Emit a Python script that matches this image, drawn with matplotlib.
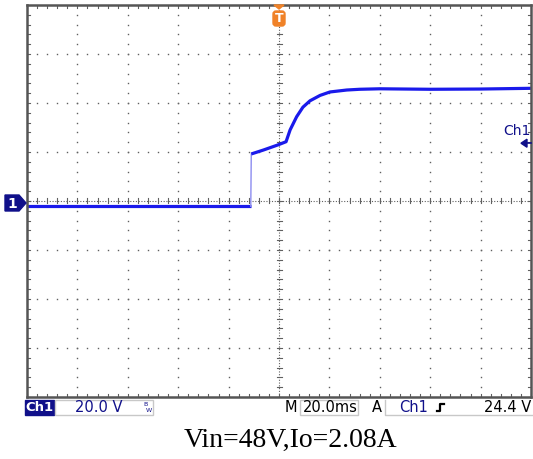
import matplotlib
matplotlib.use("Agg")
import matplotlib.pyplot as plt
from matplotlib.patches import Rectangle, Polygon, FancyBboxPatch
import numpy as np

# ---- data (time in ms relative to trigger, voltage in V) ----
t_pre = [-100, -60, -30, -11.2]
v_pre = [-2.2, -2.2, -2.2, -2.2]
t_step = [-11.2, -11.0]
v_step = [-2.2, 19.2]
t_post = [-11.0, -6.2, -0.4, 2.8, 4.4, 7.0, 9.5, 12.3, 16.3, 20.2, 26.9, 32, 40, 60, 80, 100]
v_post = [19.2, 20.8, 22.9, 24.2, 29.0, 34.4, 38.3, 40.9, 43.1, 44.5, 45.3, 45.6, 45.8, 45.6, 45.7, 46.0]

volts_per_div = 20.0
ms_per_div = 20.0
trigger_level = 24.4
caption = "Vin=48V,Io=2.08A"

W, H = 533, 459
fig = plt.figure(figsize=(W / 100, H / 100), dpi=100)
fig.patch.set_facecolor("white")

L, R, T, B = 27, 531, 5, 397
ax = fig.add_axes([L / W, 1 - B / H, (R - L) / W, (B - T) / H])
ax.set_xlim(-5 * ms_per_div, 5 * ms_per_div)
ax.set_ylim(-4 * volts_per_div, 4 * volts_per_div)
ax.set_xticks([]); ax.set_yticks([])
for s in ax.spines.values():
    s.set_color("#555555"); s.set_linewidth(1.8)

gc = "#606060"
xdiv = np.arange(-5, 6) * ms_per_div
ydiv = np.arange(-4, 5) * volts_per_div
xminor = np.arange(-25, 26) * ms_per_div / 5
yminor = np.arange(-20, 21) * volts_per_div / 5
# dotted grid
for x in xdiv[1:-1]:
    if x == 0:
        continue
    ax.plot([x] * len(yminor), yminor, ls="none", marker="s", ms=1.0, color=gc, mew=0)
for y in ydiv[1:-1]:
    if y == 0:
        continue
    ax.plot(xminor, [y] * len(xminor), ls="none", marker="s", ms=1.0, color=gc, mew=0)
# center lines
ax.axhline(0, color=gc, lw=0.8, ls=(0, (1, 1.5)))
ax.axvline(0, color=gc, lw=0.8, ls=(0, (1, 1.5)))
dx = ms_per_div / 50.4 * 2.5
dy = volts_per_div / 49 * 2.5
for x in xminor:
    ax.plot([x, x], [-dy, dy], color=gc, lw=0.8)
    ax.plot([x, x], [4 * volts_per_div, 4 * volts_per_div - dy * 1.2], color=gc, lw=0.8)
    ax.plot([x, x], [-4 * volts_per_div, -4 * volts_per_div + dy * 1.2], color=gc, lw=0.8)
for y in yminor:
    ax.plot([-dx, dx], [y, y], color=gc, lw=0.8)
    ax.plot([-5 * ms_per_div, -5 * ms_per_div + dx * 1.2], [y, y], color=gc, lw=0.8)
    ax.plot([5 * ms_per_div, 5 * ms_per_div - dx * 1.2], [y, y], color=gc, lw=0.8)

# trace
tc = "#1a1aeb"
ax.plot(t_pre, v_pre, color=tc, lw=2.3, solid_capstyle="butt")
ax.plot(t_step, v_step, color="#8c8cf0", lw=1.0)
ax.plot(t_post, v_post, color=tc, lw=2.3, solid_capstyle="butt", solid_joinstyle="round")

# overlay in pixel coordinates
ov = fig.add_axes([0, 0, 1, 1])
ov.set_xlim(0, W); ov.set_ylim(H, 0); ov.axis("off")
ov.patch.set_alpha(0)

def ypix(v):
    return T + (4 * volts_per_div - v) / (8 * volts_per_div) * (B - T)

# ground marker "1"
gy = ypix(0) + 2
navy = "#10108a"
ov.add_patch(Polygon([[5, gy - 8], [19, gy - 8], [26, gy], [19, gy + 8], [5, gy + 8]], closed=True, color=navy))
ov.text(12, gy + 0.5, "1", color="white", fontsize=10, fontweight="bold", ha="center", va="center")

# trigger marker T
tx = (L + R) / 2
orange = "#f08228"
ov.add_patch(Polygon([[tx - 5, 5], [tx + 5, 5], [tx, 9]], closed=True, color=orange))
ov.add_patch(FancyBboxPatch((tx - 6, 11), 12, 15, boxstyle="round,pad=0,rounding_size=3", color=orange))
ov.text(tx, 18.5, "T", color="white", fontsize=9, fontweight="bold", ha="center", va="center")

# trigger level marker on right
ty = ypix(trigger_level)
ov.text(531, ty - 10, "Ch1", color=navy, fontsize=10, ha="right", va="center")
ov.add_patch(Polygon([[521, ty + 2], [527, ty - 2], [527, ty + 6]], closed=True, color=navy))
ov.plot([526, 531], [ty + 2, ty + 2], color=navy, lw=1.2)

# status bar
fs = 10.5
ov.add_patch(Rectangle((25, 400), 29, 15, color=navy))
ov.text(39.5, 407.5, "Ch1", color="white", fontsize=9.5, fontweight="bold", ha="center", va="center")
ov.add_patch(Rectangle((55, 400), 98, 15, fill=False, ec="#c8c8c8", lw=1))
ov.text(99, 407.5, "20.0 V", color=navy, fontsize=fs, ha="center", va="center")
ov.text(145, 405, "B", color=navy, fontsize=4.5, ha="center", va="center")
ov.text(149, 410, "W", color=navy, fontsize=4.5, ha="center", va="center")
ov.text(291, 407.5, "M", color="black", fontsize=fs, ha="center", va="center")
ov.add_patch(Rectangle((300, 400), 58, 15, fill=False, ec="#c8c8c8", lw=1))
ov.text(330, 407.5, "20.0ms", color="black", fontsize=fs, ha="center", va="center")
ov.text(377, 407.5, "A", color="black", fontsize=fs, ha="center", va="center")
ov.plot([385, 385, 533], [400, 415, 415], color="#c8c8c8", lw=1)
ov.text(414, 407.5, "Ch1", color=navy, fontsize=fs, ha="center", va="center")
ov.plot([437, 440, 440, 444], [411, 411, 404, 404], color="black", lw=1.6)
ov.text(531, 407.5, "%.1f V" % trigger_level, color="black", fontsize=fs, ha="right", va="center")

# caption
ov.text(290, 440, caption, color="black", fontsize=20, family="Liberation Serif", ha="center", va="center")

fig.savefig("out.png", dpi=100, facecolor="white")
